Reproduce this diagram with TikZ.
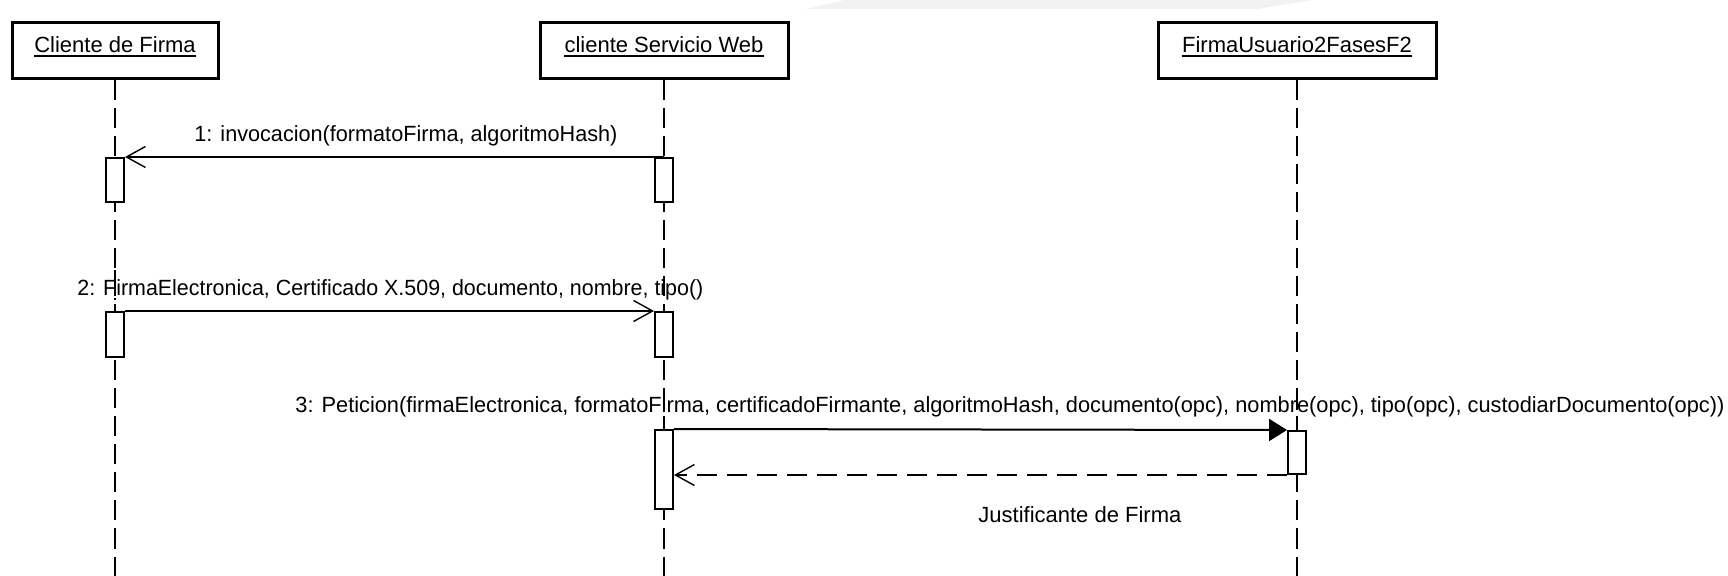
\documentclass[tikz,border=0pt]{standalone}
\usepackage{fontspec}
\usepackage{graphicx}
\setmainfont{Liberation Sans}
\usetikzlibrary{arrows.meta}
\begin{document}
\begin{tikzpicture}[x=0.5pt,y=-0.5pt,
  font=\fontsize{11pt}{13pt}\selectfont,
  objbox/.style={draw, line width=1.5pt, fill=white, minimum height=28pt, inner sep=0pt},
  objlabel/.style={anchor=base, inner sep=0pt},
  uline/.style={line width=0.8pt},
  lifeline/.style={line width=1pt, dash pattern=on 10pt off 4pt},
  actbox/.style={draw, line width=1pt, fill=white, minimum width=9pt, inner sep=0pt},
  msg/.style={line width=1pt, -{Straight Barb[length=9.5pt,width=10.5pt,line width=0.7pt]}},
  callmsg/.style={line width=1pt, -{Triangle[length=9pt,width=11pt]}},
  retmsg/.style={line width=1pt, dash pattern=on 10pt off 5pt, -{Straight Barb[length=9.5pt,width=10.5pt,line width=0.7pt]}},
  msglabel/.style={anchor=base west, inner sep=0pt}]
\path[use as bounding box] (0,0) rectangle (1728,576);
% faint background smear
\fill[black!5] (805,9) -- (845,0) -- (1312,0) -- (1258,9) -- cycle;

% lifeline ends
\coordinate (e1) at (115,576);
\coordinate (e2) at (664,576);
\coordinate (e3) at (1297,576);

% object boxes
\node[objbox, minimum width=103pt] (o1) at (115,51) {};
\node[objbox, minimum width=124pt] (o2) at (664,51) {};
\node[objbox, minimum width=139pt] (o3) at (1297,51) {};

% lifelines
\draw[lifeline] (o1.south) -- (e1);
\draw[lifeline] (o2.south) -- (e2);
\draw[lifeline] (o3.south) -- (e3);

% object labels
\node[objlabel] (t1) at (115,53) {Cliente de Firma};
\node[objlabel] (t2) at (664,53) {cliente Servicio Web};
\node[objlabel] (t3) at (1297,53) {FirmaUsuario2FasesF2};
\draw[uline] ([yshift=-1.6pt]t1.base west) -- ([yshift=-1.6pt]t1.base east);
\draw[uline] ([yshift=-1.6pt]t2.base west) -- ([yshift=-1.6pt]t2.base east);
\draw[uline] ([yshift=-1.6pt]t3.base west) -- ([yshift=-1.6pt]t3.base east);

% activation boxes
\node[actbox, minimum height=22pt] (a1) at (115,180) {};
\node[actbox, minimum height=22pt] (a2) at (664,180) {};
\node[actbox, minimum height=22.5pt] (a3) at (115,334.5) {};
\node[actbox, minimum height=22.5pt] (a4) at (664,334.5) {};
\node[actbox, minimum height=39.5pt] (a5) at (664,469.5) {};
\node[actbox, minimum height=21.5pt] (a6) at (1297,452.5) {};

% messages
\draw[msg] (a2.north) -- (a1.north east);
\draw[msg] (a3.north east) -- (a4.north west);
\draw[callmsg] (a5.north east) -- (a6.north west);
\draw[retmsg] (a6.south west) -- (a5.east |- a6.south west);

% message labels
\node[msglabel] (m1) at (194,142) {\resizebox{211.5pt}{\height}{1: invocacion(formatoFirma, algoritmoHash)}};
\node[msglabel] (m2) at (77,296) {\resizebox{313pt}{\height}{2: FirmaElectronica, Certificado X.509, documento, nombre, tipo()}};
\node[msglabel] (m3) at (295,413) {\resizebox{714.5pt}{\height}{3: Peticion(firmaElectronica, formatoFirma, certificadoFirmante, algoritmoHash, documento(opc), nombre(opc), tipo(opc), custodiarDocumento(opc))}};
\node[msglabel] (m4) at (978,523) {Justificante de Firma};

% lifelines crossing over labels
\draw[lifeline] (115,270) -- (115,300);
\draw[lifeline] (664,390) -- (664,420);
\draw[lifeline] (1297,390) -- (1297,420);
\end{tikzpicture}
\end{document}
